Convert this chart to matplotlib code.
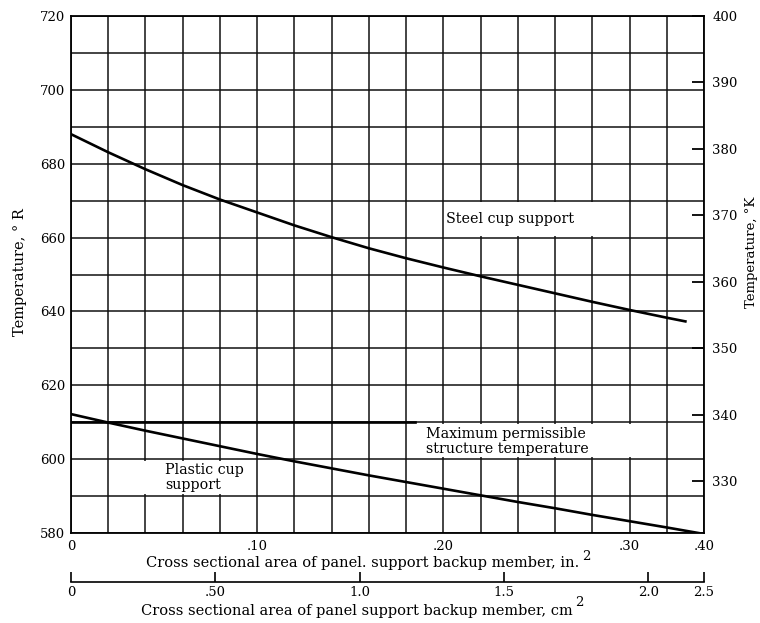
import numpy as np
import matplotlib
matplotlib.use("Agg")
import matplotlib.pyplot as plt
from matplotlib.patches import Rectangle
from matplotlib.ticker import MultipleLocator

plt.rcParams['font.family'] = 'DejaVu Serif'
plt.rcParams['font.size'] = 9.5

# cross sectional area (in.^2) vs temperature (deg R)
steel_area = [0, .02, .04, .06, .08, .10, .12, .14, .16, .18, .20, .22, .24, .26, .28, .30, .32, .33]
steel_temp = [688.0, 683.1, 678.5, 674.2, 670.3, 666.8, 663.3, 660.1, 657.1, 654.4,
              651.9, 649.5, 647.2, 644.9, 642.6, 640.4, 638.3, 637.3]

plastic_area = [0, .02, .04, .06, .08, .10, .12, .14, .16, .18, .20, .22, .24, .26, .28, .30, .32, .337]
plastic_temp = [612.2, 609.9, 607.7, 605.6, 603.5, 601.4, 599.4, 597.5, 595.6, 593.8,
                592.0, 590.2, 588.4, 586.7, 584.9, 583.2, 581.5, 580.0]

max_temp = 610
max_temp_area = [0, .185]

area_ticks = [0, .10, .20, .30, .34]
area_labels = ["0", ".10", ".20", ".30", ".40"]
cm_ticks = [0, .5, 1.0, 1.5, 2.0, .34 * 6.4516]
cm_labels = ["0", ".50", "1.0", "1.5", "2.0", "2.5"]
r_ticks = [580, 600, 620, 640, 660, 680, 700, 720]
k_ticks = [330, 340, 350, 360, 370, 380, 390, 400]

fig = plt.figure(figsize=(7.6, 6.23), dpi=100)
ax = fig.add_axes([71 / 760, 1 - 533 / 623, 633 / 760, 517 / 623])

ax.set_xlim(0, 0.34)
ax.set_ylim(580, 720)
ax.set_xticks(area_ticks)
ax.set_xticklabels(area_labels)
ax.xaxis.set_minor_locator(MultipleLocator(0.02))
ax.set_yticks(r_ticks)
ax.yaxis.set_minor_locator(MultipleLocator(10))
ax.tick_params(which='both', length=0)
ax.tick_params(axis='x', pad=5)
ax.tick_params(axis='y', pad=4)
ax.grid(True, which='both', color='#111111', linewidth=1.1)
ax.set_axisbelow(True)
for s in ax.spines.values():
    s.set_linewidth(1.3)

# white cells behind the labels (break the vertical grid lines)
for x0, x1, y0, y1 in [(0.2008, 0.2992, 660.45, 669.55),
                       (0.1808, 0.3192, 600.45, 609.55),
                       (0.0208, 0.0992, 590.45, 599.55)]:
    ax.add_patch(Rectangle((x0, y0), x1 - x0, y1 - y0, facecolor='white',
                           edgecolor='none', zorder=1))

ax.plot(steel_area, steel_temp, color='black', linewidth=1.9, zorder=3)
ax.plot(plastic_area, plastic_temp, color='black', linewidth=1.9, zorder=3)
ax.plot(max_temp_area, [max_temp, max_temp], color='black', linewidth=1.9, zorder=3)

ax.text(0.2012, 665, "Steel cup support", va='center', ha='left', fontsize=10.3, zorder=4)
ax.text(0.1905, 604.8, "Maximum permissible\nstructure temperature", va='center',
        ha='left', linespacing=1.1, fontsize=10.3, zorder=4)
ax.text(0.0505, 595, "Plastic cup\nsupport", va='center', ha='left',
        linespacing=1.1, fontsize=10.3, zorder=4)

axk = ax.twinx()
axk.set_ylim(580 / 1.8, 720 / 1.8)
axk.set_yticks(k_ticks)
axk.tick_params(axis='y', direction='in', length=9, width=1.3, pad=6)
for s in axk.spines.values():
    s.set_visible(False)

fig.text(20 / 760, 1 - 272 / 623, "Temperature, ° R", rotation=90, ha='center', va='center',
         fontsize=10.5)
fig.text(751 / 760, 1 - 252 / 623, "Temperature, °K", rotation=90, ha='center', va='center',
         fontsize=9.5)

fig.text(146 / 760, 1 - 563 / 623, "Cross sectional area of panel. support backup member, in.",
         ha='left', va='center', fontsize=10.5)
fig.text(582 / 760, 1 - 556 / 623, "2", ha='left', va='center', fontsize=9.5)

# second scale in cm^2
axc = fig.add_axes([71 / 760, 1 - 582 / 623, 633 / 760, 0.001])
axc.set_xlim(0, .34 * 6.4516)
axc.set_xticks(cm_ticks)
axc.set_xticklabels(cm_labels)
axc.set_yticks([])
axc.tick_params(axis='x', direction='in', length=7, width=1.2, pad=3)
for name, s in axc.spines.items():
    s.set_visible(name == 'bottom')
axc.spines['bottom'].set_linewidth(1.2)
axc.patch.set_alpha(0)

fig.text(141 / 760, 1 - 611 / 623, "Cross sectional area of panel support backup member, cm",
         ha='left', va='center', fontsize=10.5)
fig.text(575 / 760, 1 - 603 / 623, "2", ha='left', va='center', fontsize=9.5)

fig.savefig("out.png", dpi=100)
